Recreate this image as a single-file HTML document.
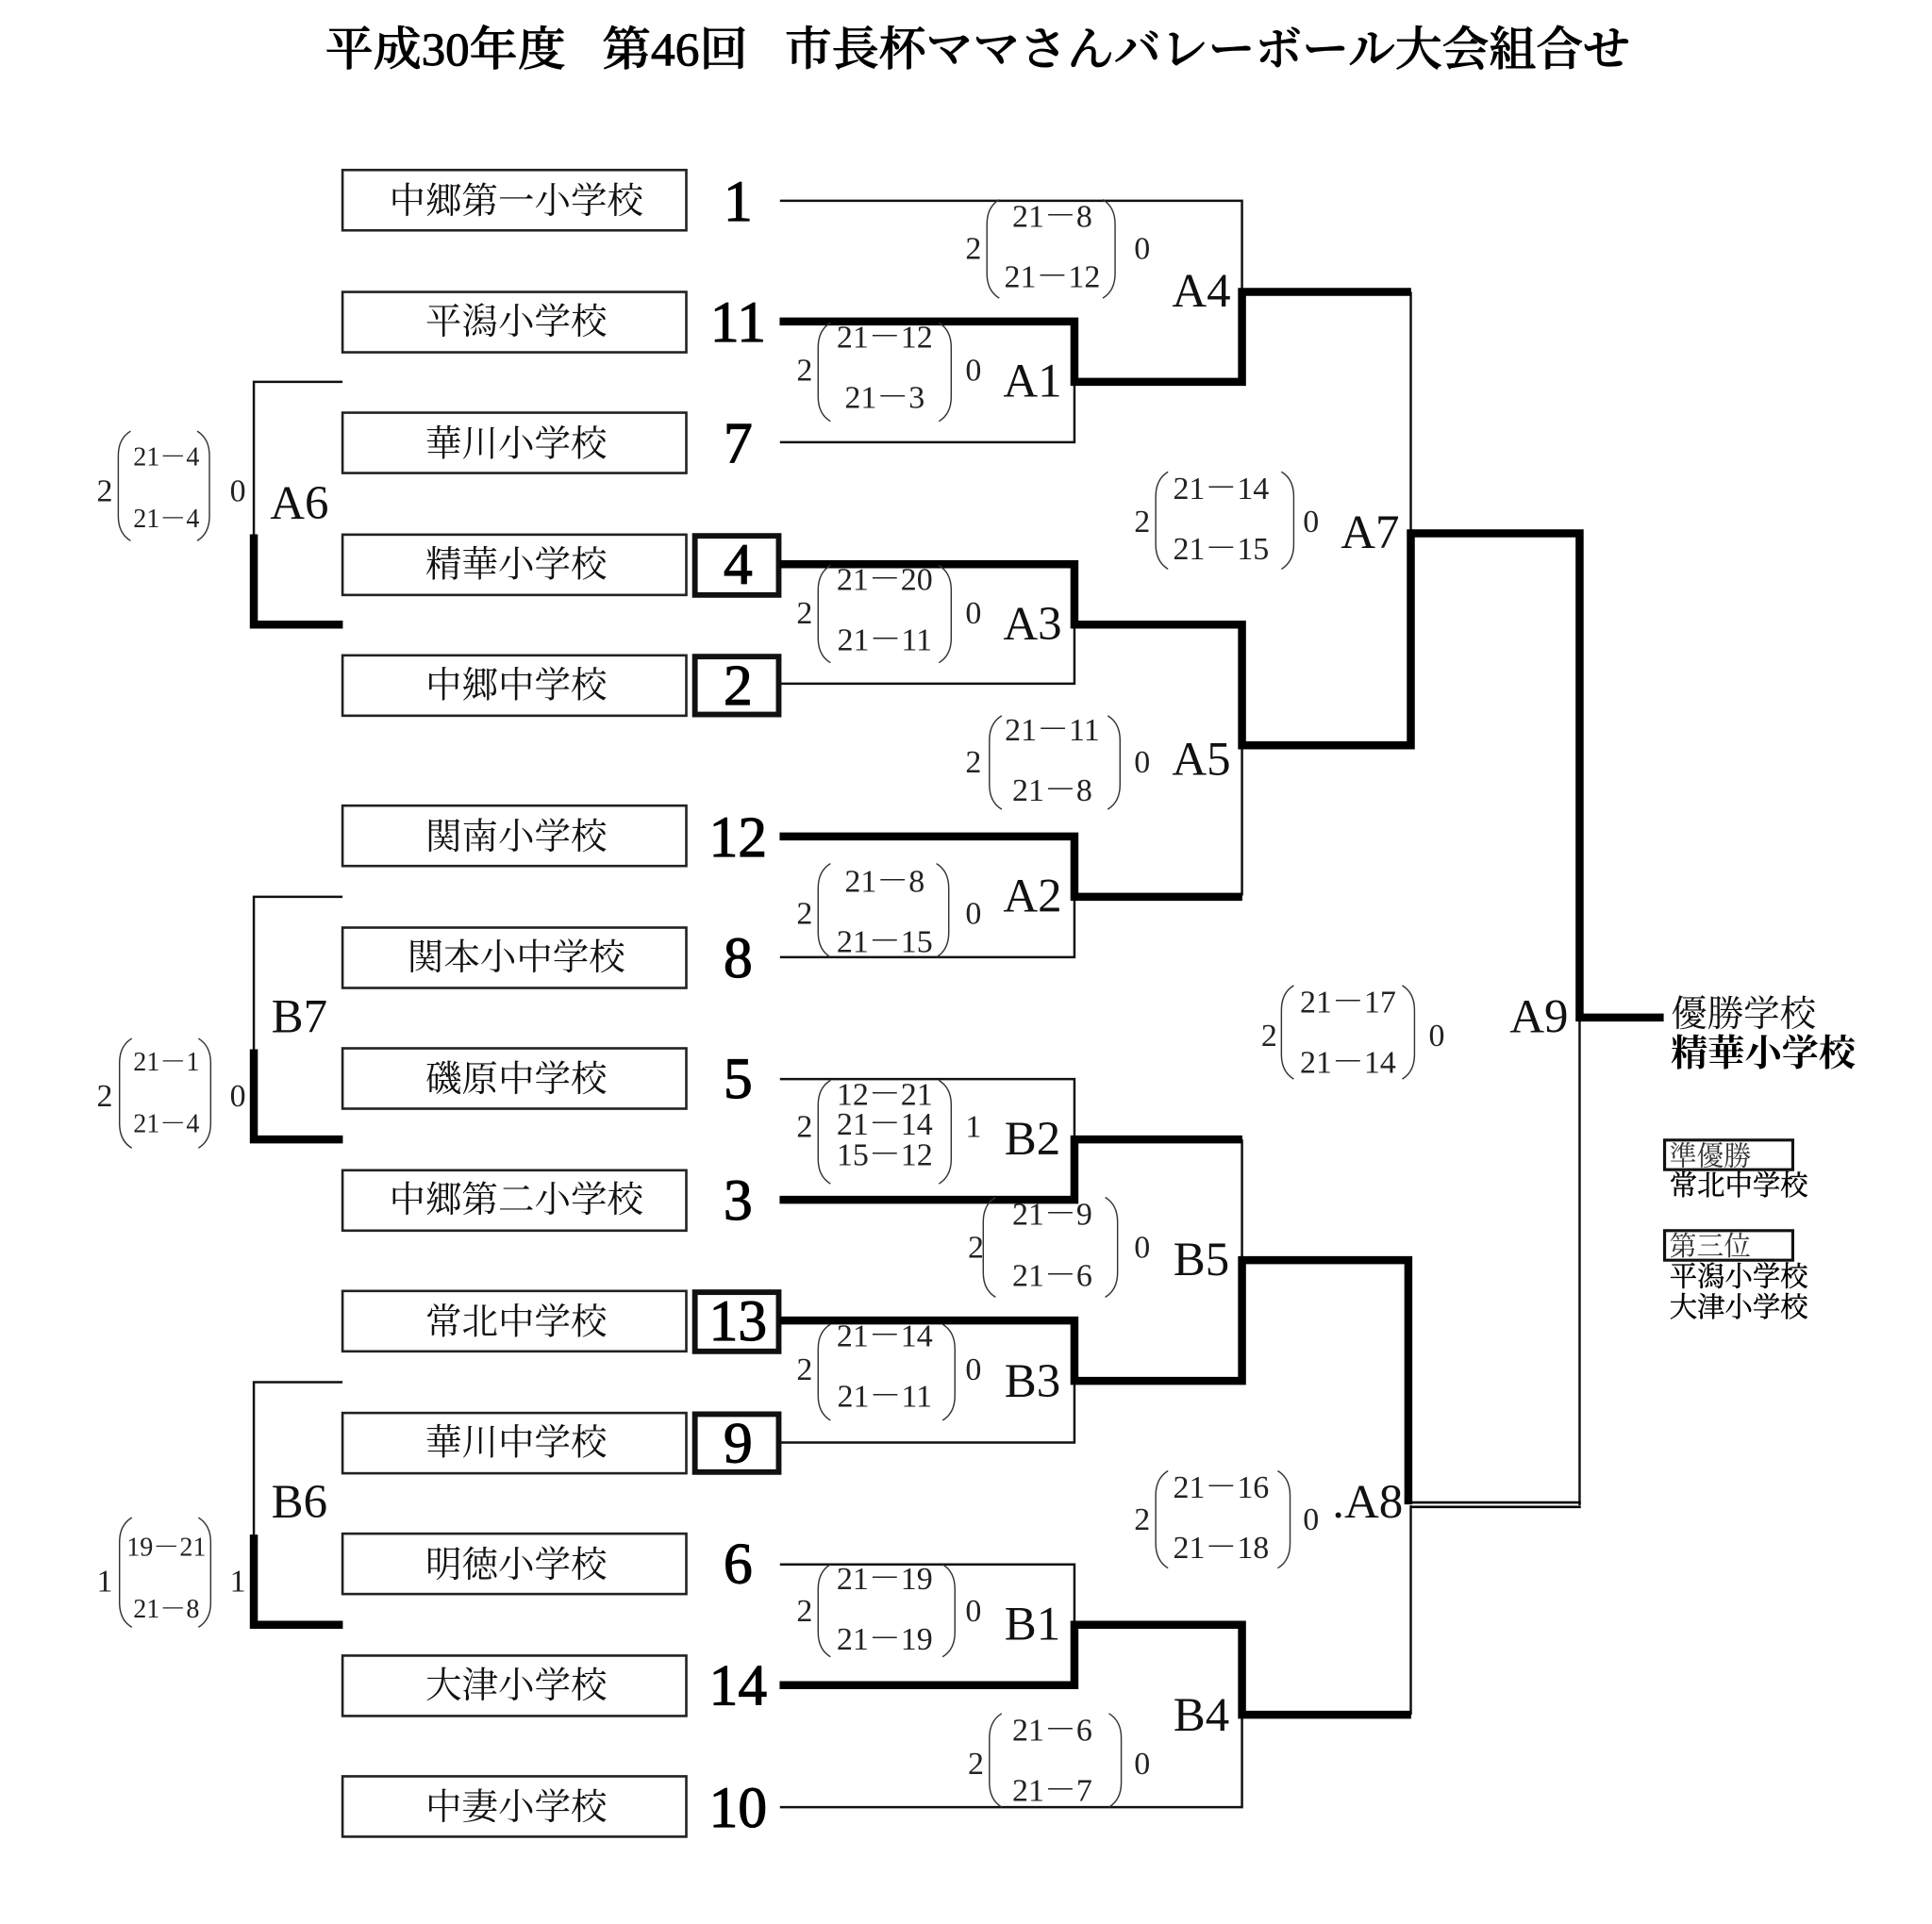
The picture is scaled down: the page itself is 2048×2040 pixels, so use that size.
<!DOCTYPE html>
<html lang="ja"><head><meta charset="utf-8"><title>平成30年度 第46回 市長杯ママさんバレーボール大会組合せ</title>
<style>
html,body{margin:0;padding:0;background:#fff}
svg{display:block;width:2048px;height:2040px}
text{font-family:"Liberation Serif","Noto Serif CJK JP","Noto Serif CJK SC",serif;fill:#111}
.n{font-size:29.5px;text-anchor:middle}
.d{font-size:47px;text-anchor:middle;fill:#000;stroke:#000;stroke-width:.9px}
.s{font-size:26px;text-anchor:middle;fill:#222}
.x{font-size:21.5px;text-anchor:middle;fill:#222}
.c{font-size:26px;text-anchor:middle;fill:#222}
.l{font-size:39px;text-anchor:middle}
.t{font-size:38px;font-weight:500;fill:#000;stroke:#000;stroke-width:.7px}
.p{font-size:22px;fill:#333}
.q{font-size:22.5px;fill:#000;stroke:#000;stroke-width:.35px}
.k{fill:none;stroke:#111;stroke-width:1.9}
.h{fill:none;stroke:#000;stroke-width:6.5;stroke-linecap:square;stroke-linejoin:miter}
.b{fill:#fff;stroke:#222;stroke-width:2}
.w{fill:#fff;stroke:#111;stroke-width:4.5}
.r{fill:none;stroke:#333;stroke-width:1.1}
</style></head><body>
<svg xmlns="http://www.w3.org/2000/svg" viewBox="0 0 1568 1561.875">
<rect width="1568" height="1562" fill="#fff"/>

<text class="t" x="264" y="53" textLength="195" lengthAdjust="spacingAndGlyphs">平成30年度</text>
<text class="t" x="489" y="53" textLength="118" lengthAdjust="spacingAndGlyphs">第46回</text>
<text class="t" x="637" y="53" textLength="686" lengthAdjust="spacingAndGlyphs">市長杯ママさんバレーボール大会組合せ</text>

<!-- school boxes -->
<rect class="b" x="278" y="138" width="279" height="49"/>
<rect class="b" x="278" y="237" width="279" height="49"/>
<rect class="b" x="278" y="335" width="279" height="49"/>
<rect class="b" x="278" y="434" width="279" height="49"/>
<rect class="b" x="278" y="532" width="279" height="49"/>
<rect class="b" x="278" y="654" width="279" height="49"/>
<rect class="b" x="278" y="753" width="279" height="49"/>
<rect class="b" x="278" y="851" width="279" height="49"/>
<rect class="b" x="278" y="950" width="279" height="49"/>
<rect class="b" x="278" y="1048" width="279" height="49"/>
<rect class="b" x="278" y="1147" width="279" height="49"/>
<rect class="b" x="278" y="1245" width="279" height="49"/>
<rect class="b" x="278" y="1344" width="279" height="49"/>
<rect class="b" x="278" y="1442" width="279" height="49"/>

<text class="n" x="419" y="173">中郷第一小学校</text>
<text class="n" x="419" y="271">平潟小学校</text>
<text class="n" x="419" y="370">華川小学校</text>
<text class="n" x="419" y="468">精華小学校</text>
<text class="n" x="419" y="566">中郷中学校</text>
<text class="n" x="419" y="689">関南小学校</text>
<text class="n" x="419" y="787">関本小中学校</text>
<text class="n" x="419" y="886">磯原中学校</text>
<text class="n" x="419" y="984">中郷第二小学校</text>
<text class="n" x="419" y="1083">常北中学校</text>
<text class="n" x="419" y="1181">華川中学校</text>
<text class="n" x="419" y="1280">明徳小学校</text>
<text class="n" x="419" y="1378">大津小学校</text>
<text class="n" x="419" y="1477">中妻小学校</text>

<!-- thick number boxes -->
<rect class="w" x="564" y="435" width="68" height="48"/>
<rect class="w" x="564" y="533" width="68" height="47"/>
<rect class="w" x="564" y="1049" width="68" height="48"/>
<rect class="w" x="564" y="1148" width="68" height="47"/>

<text class="d" x="599" y="179">1</text>
<text class="d" x="599" y="277">11</text>
<text class="d" x="599" y="375">7</text>
<text class="d" x="599" y="474">4</text>
<text class="d" x="599" y="572">2</text>
<text class="d" x="599" y="695">12</text>
<text class="d" x="599" y="793">8</text>
<text class="d" x="599" y="891">5</text>
<text class="d" x="599" y="990">3</text>
<text class="d" x="599" y="1088">13</text>
<text class="d" x="599" y="1187">9</text>
<text class="d" x="599" y="1285">6</text>
<text class="d" x="599" y="1384">14</text>
<text class="d" x="599" y="1483">10</text>

<!-- thin connectors -->
<path class="k" d="M633 163H1008V237M872 310V359H633M872 507V555H633M1008 605V727M872 728V777H633M872 925V876H633M872 1121V1171H633M1008 1023V925M872 1319V1270H633M1008 1392V1467H633M1145 237V433M1282 826V1222M1145 1222V1392"/>
<path class="k" d="M278 310H206V434M278 728H206V852M278 1122H206V1246"/>
<!-- thick connectors -->
<path class="h" d="M636 261H872V310H1008V237H1142"/>
<path class="h" d="M636 458H872V507H1008V605H1145V433H1282V826H1347"/>
<path class="h" d="M636 679H872V728H1005"/>
<path class="h" d="M872 925H1005M636 974H872V925"/>
<path class="h" d="M636 1072H872V1121H1008V1023H1143V1218"/>
<path class="h" d="M636 1368H872V1319H1008V1392H1142"/>
<path class="h" d="M275 507H206V437M275 925H206V855M275 1319H206V1249"/>
<path d="M1145 1219.7H1283M1145 1223.3H1283" fill="none" stroke="#000" stroke-width="2"/>

<!-- score brackets -->
<path class="r" d="M811 162Q801 168 801 182V222Q801 236 811 242M895 162Q905 168 905 182V222Q905 236 895 242"/>
<path class="r" d="M674 262Q664 268 664 282V322Q664 336 674 342M762 262Q772 268 772 282V322Q772 336 762 342"/>
<path class="r" d="M674 459Q664 465 664 479V518Q664 532 674 538M762 459Q772 465 772 479V518Q772 532 762 538"/>
<path class="r" d="M948 383Q938 389 938 403V442Q938 456 948 462M1040 383Q1050 389 1050 403V442Q1050 456 1040 462"/>
<path class="r" d="M813 581Q803 587 803 601V637Q803 651 813 657M899 581Q909 587 909 601V637Q909 651 899 657"/>
<path class="r" d="M674 701Q664 707 664 721V757Q664 771 674 777M760 701Q770 707 770 721V757Q770 771 760 777"/>
<path class="r" d="M1050 800Q1040 806 1040 820V856Q1040 870 1050 876M1138 800Q1148 806 1148 820V856Q1148 870 1138 876"/>
<path class="r" d="M674 877Q664 883 664 897V941Q664 955 674 961M762 877Q772 883 772 897V941Q772 955 762 961"/>
<path class="r" d="M808 972Q798 978 798 992V1033Q798 1047 808 1053M897 972Q907 978 907 992V1033Q907 1047 897 1053"/>
<path class="r" d="M674 1075Q664 1081 664 1095V1133Q664 1147 674 1153M765 1075Q775 1081 775 1095V1133Q775 1147 765 1153"/>
<path class="r" d="M948 1194Q938 1200 938 1214V1253Q938 1267 948 1273M1037 1194Q1047 1200 1047 1214V1253Q1047 1267 1037 1273"/>
<path class="r" d="M674 1270Q664 1276 664 1290V1325Q664 1339 674 1345M765 1270Q775 1276 775 1290V1325Q775 1339 765 1345"/>
<path class="r" d="M813 1391Q803 1397 803 1411V1447Q803 1461 813 1467M900 1391Q910 1397 910 1411V1447Q910 1461 900 1467"/>
<path class="r" d="M106 350Q96 356 96 370V419Q96 433 106 439M160 350Q170 356 170 370V419Q170 433 160 439"/>
<path class="r" d="M107 843Q97 849 97 863V912Q97 926 107 932M161 843Q171 849 171 863V912Q171 926 161 932"/>
<path class="r" d="M107 1232Q97 1238 97 1252V1301Q97 1315 107 1321M161 1232Q171 1238 171 1252V1301Q171 1315 161 1321"/>

<!-- scores -->
<text class="s" x="854" y="184">21－8</text><text class="s" x="854" y="233">21－12</text>
<text class="s" x="718" y="282">21－12</text><text class="s" x="718" y="331">21－3</text>
<text class="s" x="718" y="479">21－20</text><text class="s" x="718" y="528">21－11</text>
<text class="s" x="991" y="405">21－14</text><text class="s" x="991" y="454">21－15</text>
<text class="s" x="854" y="601">21－11</text><text class="s" x="854" y="650">21－8</text>
<text class="s" x="718" y="724">21－8</text><text class="s" x="718" y="773">21－15</text>
<text class="s" x="1094" y="822">21－17</text><text class="s" x="1094" y="871">21－14</text>
<text class="s" x="718" y="897">12－21</text><text class="s" x="718" y="921">21－14</text><text class="s" x="718" y="946">15－12</text>
<text class="s" x="854" y="994">21－9</text><text class="s" x="854" y="1044">21－6</text>
<text class="s" x="718" y="1093">21－14</text><text class="s" x="718" y="1142">21－11</text>
<text class="s" x="991" y="1216">21－16</text><text class="s" x="991" y="1265">21－18</text>
<text class="s" x="718" y="1290">21－19</text><text class="s" x="718" y="1339">21－19</text>
<text class="s" x="854" y="1413">21－6</text><text class="s" x="854" y="1462">21－7</text>
<text class="x" x="135" y="378">21－4</text><text class="x" x="135" y="428">21－4</text>
<text class="x" x="135" y="869">21－1</text><text class="x" x="135" y="919">21－4</text>
<text class="x" x="135" y="1263">19－21</text><text class="x" x="135" y="1313">21－8</text>

<!-- set counts -->
<text class="c" x="790" y="210">2</text><text class="c" x="927" y="210">0</text>
<text class="c" x="653" y="309">2</text><text class="c" x="790" y="309">0</text>
<text class="c" x="653" y="506">2</text><text class="c" x="790" y="506">0</text>
<text class="c" x="927" y="432">2</text><text class="c" x="1064" y="432">0</text>
<text class="c" x="790" y="627">2</text><text class="c" x="927" y="627">0</text>
<text class="c" x="653" y="750">2</text><text class="c" x="790" y="750">0</text>
<text class="c" x="1030" y="849">2</text><text class="c" x="1166" y="849">0</text>
<text class="c" x="653" y="923">2</text><text class="c" x="790" y="923">1</text>
<text class="c" x="792" y="1021">2</text><text class="c" x="927" y="1021">0</text>
<text class="c" x="653" y="1120">2</text><text class="c" x="790" y="1120">0</text>
<text class="c" x="927" y="1242">2</text><text class="c" x="1064" y="1242">0</text>
<text class="c" x="653" y="1316">2</text><text class="c" x="790" y="1316">0</text>
<text class="c" x="792" y="1440">2</text><text class="c" x="927" y="1440">0</text>
<text class="c" x="85" y="407">2</text><text class="c" x="193" y="407">0</text>
<text class="c" x="85" y="898">2</text><text class="c" x="193" y="898">0</text>
<text class="c" x="85" y="1292">1</text><text class="c" x="193" y="1292">1</text>

<!-- match labels -->
<text class="l" x="975" y="249">A4</text>
<text class="l" x="838" y="322">A1</text>
<text class="l" x="243" y="421">A6</text>
<text class="l" x="838" y="519">A3</text>
<text class="l" x="975" y="629">A5</text>
<text class="l" x="838" y="740">A2</text>
<text class="l" x="1112" y="445">A7</text>
<text class="l" x="243" y="838">B7</text>
<text class="l" x="838" y="937">B2</text>
<text class="l" x="975" y="1035">B5</text>
<text class="l" x="838" y="1134">B3</text>
<text class="l" x="243" y="1232">B6</text>
<text class="l" x="838" y="1331">B1</text>
<text class="l" x="975" y="1405">B4</text>
<text class="l" x="1110" y="1232">.A8</text>
<text class="l" x="1249" y="838">A9</text>

<!-- results -->
<text x="1356" y="833" style="font-size:29.5px">優勝学校</text>
<text x="1356" y="865" style="font-size:30px;font-weight:700;fill:#000">精華小学校</text>
<rect x="1351" y="925.5" width="104" height="24" fill="none" stroke="#111" stroke-width="2.4"/>
<rect x="1351" y="999" width="104" height="24" fill="none" stroke="#111" stroke-width="2.4"/>
<text class="p" x="1355" y="946">準優勝</text>
<text class="q" x="1355" y="970">常北中学校</text>
<text class="p" x="1355" y="1019">第三位</text>
<text class="q" x="1355" y="1044">平潟小学校</text>
<text class="q" x="1355" y="1069">大津小学校</text>
</svg>
</body></html>
